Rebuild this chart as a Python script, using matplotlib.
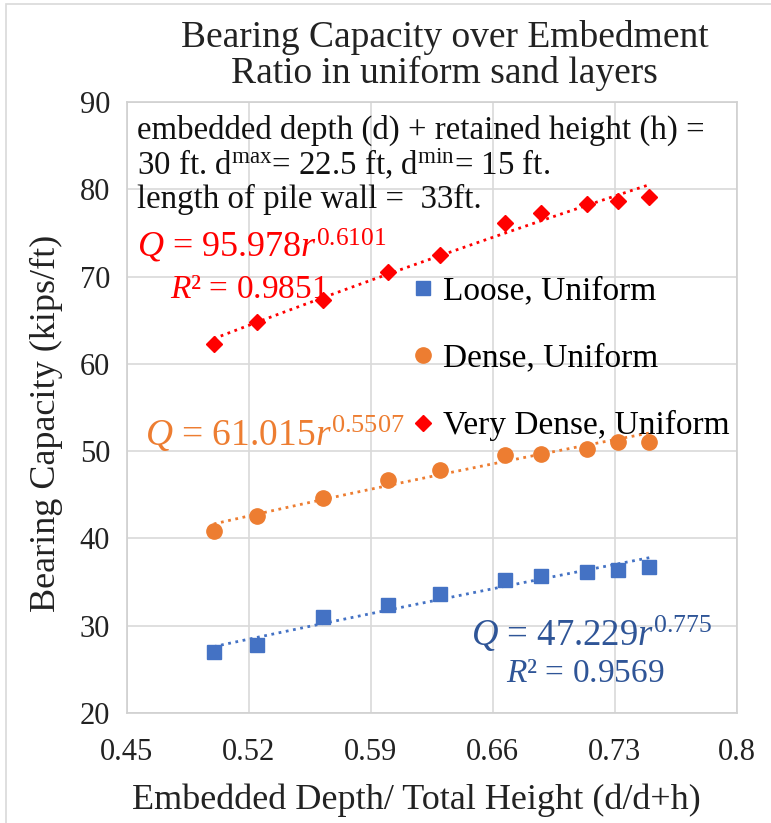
import matplotlib.pyplot as plt
import numpy as np
from matplotlib.patches import Rectangle

plt.rcParams["font.family"] = ["Liberation Serif", "DejaVu Serif"]
plt.rcParams["mathtext.fontset"] = "custom"
plt.rcParams["mathtext.rm"] = "Liberation Serif"
plt.rcParams["mathtext.it"] = "Liberation Serif:italic"

# embedment ratio d/(d+h)
ratio = [0.5, 0.525, 0.5625, 0.6, 0.63, 0.667, 0.6875, 0.714, 0.732, 0.75]
# bearing capacity (kips/ft)
loose = [27.0, 27.8, 31.0, 32.4, 33.6, 35.2, 35.7, 36.1, 36.4, 36.7]
dense = [40.8, 42.6, 44.6, 46.7, 47.8, 49.5, 49.7, 50.2, 51.0, 51.1]
very_dense = [62.3, 64.8, 67.3, 70.5, 72.5, 76.1, 77.3, 78.3, 78.6, 79.1]

# power-law fits Q = a * r^b
fit_loose = (47.229, 0.775, 0.9569)
fit_dense = (61.015, 0.5507)
fit_vdense = (95.978, 0.6101, 0.9851)

BLUE = "#4472C4"
ORANGE = "#ED7D31"
RED = "#FF0000"

fig = plt.figure(figsize=(7.71, 8.23), dpi=100)
ax = fig.add_axes([0.1643, 0.1337, 0.791, 0.7424])

# light chart-area border
fig.patches.append(Rectangle((6 / 771, -0.01), 1.0, 1 - 4 / 823 + 0.01,
                             transform=fig.transFigure, fill=False,
                             edgecolor="#D9D9D9", lw=1.2))

r_fit = np.linspace(min(ratio), max(ratio), 100)
for a_b, col in [(fit_loose, BLUE), (fit_dense, ORANGE), (fit_vdense, RED)]:
    a, b = a_b[0], a_b[1]
    ax.plot(r_fit, a * r_fit ** b, ls=":", lw=2, color=col, zorder=2)

ax.plot(ratio, loose, ls="none", marker="s", ms=10.5, color=BLUE,
        label="Loose, Uniform", zorder=3)
ax.plot(ratio, dense, ls="none", marker="o", ms=11, color=ORANGE,
        label="Dense, Uniform", zorder=3)
ax.plot(ratio, very_dense, ls="none", marker="D", ms=8, color=RED,
        label="Very Dense, Uniform", zorder=3)

ax.set_xlim(0.45, 0.8)
ax.set_ylim(20, 90)
ax.set_xticks([0.45, 0.52, 0.59, 0.66, 0.73, 0.8])
ax.set_xticklabels(["0.45", "0.52", "0.59", "0.66", "0.73", "0.8"])
ax.set_yticks(range(20, 91, 10))
ax.grid(True, color="#D9D9D9", lw=1.2)
ax.set_axisbelow(True)
for s in ax.spines.values():
    s.set_color("#D0D0D0")
    s.set_linewidth(1.2)
ax.tick_params(length=0, labelsize=22, colors="#222222")
ax.tick_params(axis="x", pad=18)
ax.tick_params(axis="y", pad=12)

ax.set_xlabel("Embedded Depth/ Total Height (d/d+h)", fontsize=26,
              color="#222222", va="center")
ax.xaxis.set_label_coords(0.4744, -0.1424)
ax.set_ylabel("Bearing Capacity (kips/ft)", fontsize=26, color="#222222",
              va="center")
ax.yaxis.set_label_coords(-0.132, 0.4746)

fig.text(0.577, 0.9326, "Bearing Capacity over Embedment\nRatio in uniform sand layers",
         ha="center", va="center", fontsize=27, color="#222222", linespacing=1.0)

# note box
note = ["embedded depth (d) + retained height (h) =",
        r"30 ft. d$^{\mathrm{max}}$= 22.5 ft, d$^{\mathrm{min}}$= 15 ft.",
        "length of pile wall =  33ft."]
for i, line in enumerate(note):
    ax.text(0.456, 86.8 - 4.0 * i, line, fontsize=23.7, ha="left", va="center",
            color="#111111")

# fit labels
ax.text(0.4559, 73.5, r"$Q$ = 95.978$r^{0.6101}$", color=RED, fontsize=26,
        ha="left", va="center")
ax.text(0.475, 68.5, r"$R$² = 0.9851", color=RED, fontsize=24,
        ha="left", va="center")
ax.text(0.4605, 52.0, r"$Q$ = 61.015$r^{0.5507}$", color=ORANGE, fontsize=27,
        ha="left", va="center")
ax.text(0.6476, 29.0, r"$Q$ = 47.229$r^{0.775}$", color="#2F5597", fontsize=26.5,
        ha="left", va="center")
ax.text(0.6677, 24.5, r"$R$² = 0.9569", color="#2F5597", fontsize=24,
        ha="left", va="center")

ax.legend(loc="upper left", bbox_to_anchor=(0.47, 0.715), frameon=False,
          fontsize=24, handlelength=0.6, handletextpad=0.3, labelspacing=1.1,
          borderaxespad=0, borderpad=0)

fig.savefig("out.png", dpi=100)
